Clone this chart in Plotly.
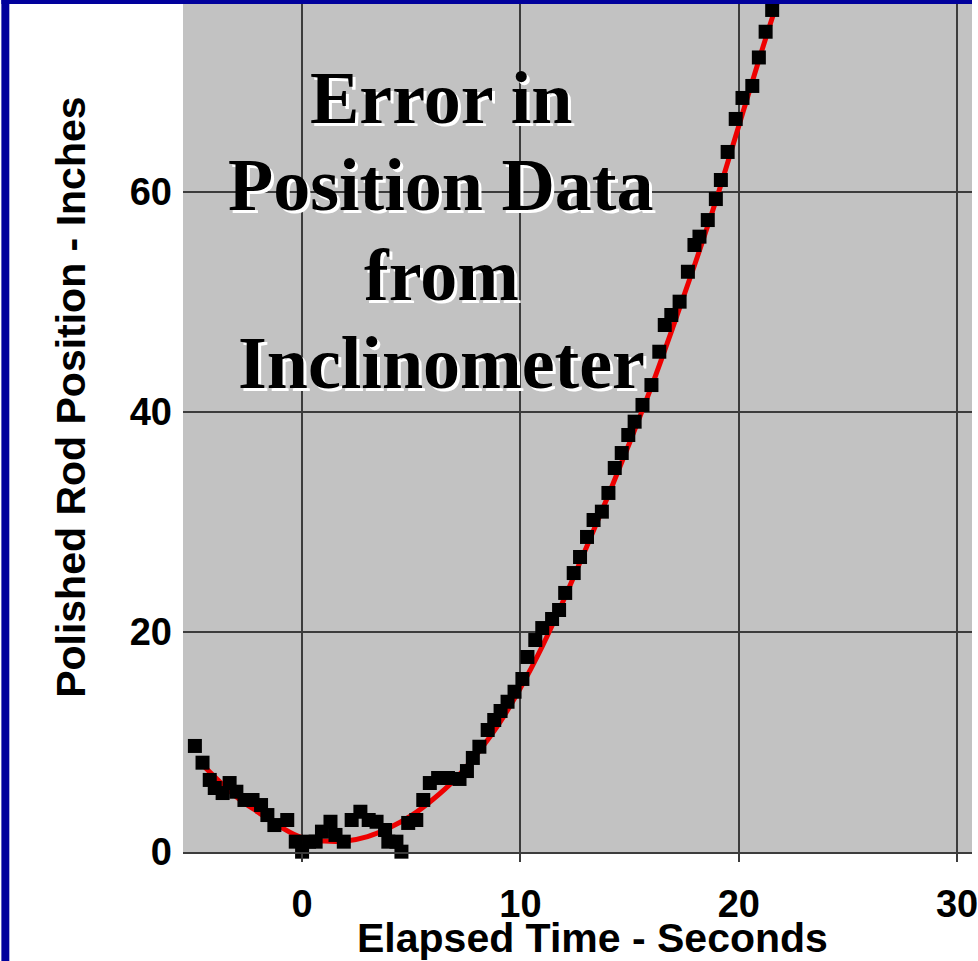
import plotly.graph_objects as go

# Measured data points (elapsed time s, polished rod position in)
time_s = [-4.91, -4.56, -4.23, -4.0, -3.64, -3.32, -3.01, -2.64, -2.27, -1.88,
          -1.59, -1.27, -0.68, -0.29, 0.0, 0.32, 0.62, 0.91, 1.30, 1.53,
          1.91, 2.27, 2.67, 3.05, 3.41, 3.80, 3.95, 4.32, 4.55, 4.86,
          5.23, 5.55, 5.85, 6.23, 6.68, 7.21, 7.55, 7.82, 8.12, 8.5,
          8.80, 9.09, 9.41, 9.73, 10.09, 10.32, 10.68, 11.0, 11.45, 11.77,
          12.05, 12.44, 12.73, 13.05, 13.35, 13.73, 14.03, 14.32, 14.64, 14.94,
          15.23, 15.59, 16.0, 16.36, 16.61, 16.91, 17.29, 17.67, 17.97, 18.2,
          18.58, 18.95, 19.18, 19.49, 19.86, 20.17, 20.62, 20.92, 21.23, 21.53]
position_in = [9.64, 8.12, 6.55, 5.82, 5.36, 6.27, 5.48, 4.73, 4.73, 4.27,
               3.36, 2.45, 2.91, 0.94, 0.03, 0.94, 0.94, 1.85, 2.75, 1.55,
               0.94, 2.91, 3.66, 2.91, 2.75, 2.0, 0.94, 0.94, 0.03, 2.64,
               2.91, 4.73, 6.27, 6.73, 6.73, 6.64, 7.36, 8.55, 9.57, 11.09,
               12.0, 12.82, 13.66, 14.57, 15.73, 17.73, 19.27, 20.36, 21.18, 22.0,
               23.55, 25.36, 26.82, 28.64, 30.18, 30.94, 32.64, 34.91, 36.27, 37.91,
               39.12, 40.64, 42.45, 45.48, 47.91, 48.82, 50.03, 52.75, 55.18, 55.94,
               57.45, 59.36, 61.09, 63.64, 66.64, 68.55, 69.64, 72.23, 74.57, 76.55]

# Reference (red) curve
ref_time = [-4.6, -3, -2, -1, 0, 1, 2, 3, 4, 5, 6, 7, 8, 9, 10, 11, 12,
            13, 14, 15, 16, 17, 18, 19, 20, 21, 22]
ref_pos = [8.0, 5.0, 3.6, 2.3, 1.3, 1.0, 1.0, 1.4, 2.2, 3.3, 4.8, 6.6, 8.9,
           11.6, 14.9, 18.7, 23.0, 27.6, 32.3, 37.2, 42.3, 47.8, 53.5, 59.5,
           66.0, 72.5, 78.7]

x_ticks = [0, 10, 20, 30]
y_ticks = [0, 20, 40, 60]
title_lines = ["Error in", "Position Data", "from", "Inclinometer"]
x_title = "Elapsed Time - Seconds"
y_title = "Polished Rod Position - Inches"

W, H = 978, 961
L, R, T, B = 183, 0, 4, 109
PW, PH = W - L - R, H - T - B


def px_to_paper(px, py):
    return (px - L) / PW, (H - B - py) / PH


fig = go.Figure()
fig.add_trace(go.Scatter(x=ref_time, y=ref_pos, mode="lines",
                         line=dict(color="#ee0000", width=5, shape="spline"),
                         hoverinfo="skip", showlegend=False))
fig.add_trace(go.Scatter(x=time_s, y=position_in, mode="markers",
                         marker=dict(symbol="square", size=14, color="black"),
                         cliponaxis=False, showlegend=False))

axis_font = dict(family="Arial, Liberation Sans, sans-serif", size=38,
                 color="black", weight="bold")
title_font = dict(family="Arial, Liberation Sans, sans-serif", size=41,
                  color="black", weight="bold")
grid_col = "#3c3c3c"

fig.update_layout(
    width=W, height=H, autosize=False,
    margin=dict(l=L, r=R, t=T, b=B, pad=0),
    paper_bgcolor="white", plot_bgcolor="#c2c2c2",
    xaxis=dict(range=[(L - 303) / 22, (W - 303) / 22], tickvals=x_ticks,
               showgrid=True, gridcolor=grid_col, gridwidth=2,
               zeroline=False, showline=True, linecolor=grid_col, linewidth=2,
               ticks="outside", ticklen=8, tickwidth=2, tickcolor=grid_col,
               tickfont=axis_font, ticklabeloverflow="allow",
               ticklabelstandoff=9),
    yaxis=dict(range=[0, (H - B - T) / 11], tickvals=y_ticks,
               showgrid=True, gridcolor=grid_col, gridwidth=2,
               zeroline=False, showline=False, ticks="",
               tickfont=axis_font, ticklabelstandoff=10),
)

# Axis titles
xt, yt = px_to_paper(596, 938)
fig.add_annotation(text=x_title, xref="paper", yref="paper", x=xt, y=yt,
                   showarrow=False, font=title_font,
                   xanchor="center", yanchor="middle")
xt, yt = px_to_paper(70, 397)
fig.add_annotation(text=y_title, xref="paper", yref="paper", x=xt, y=yt,
                   showarrow=False, font=title_font, textangle=-90,
                   xanchor="center", yanchor="middle")

# Big title, one annotation per line
line_centers = [98, 185, 275, 363]
for txt, cy in zip(title_lines, line_centers):
    xt, yt = px_to_paper(443, cy)
    fig.add_annotation(text=txt, xref="paper", yref="paper", x=xt, y=yt,
                       showarrow=False, xanchor="center", yanchor="middle",
                       font=dict(family="Times New Roman, Liberation Serif, serif",
                                 size=74, color="black", weight="bold",
                                 shadow="3px 3px 0px white"))

# Blue slide border (left and top)
blue = "#00009c"
x0, _ = px_to_paper(0, 0)
x1, _ = px_to_paper(8, 0)
_, ytop = px_to_paper(0, 0)
_, ybot = px_to_paper(0, H)
_, y4 = px_to_paper(0, 4)
fig.add_shape(type="rect", xref="paper", yref="paper", x0=x0, x1=x1,
              y0=ybot, y1=ytop, fillcolor=blue, line_width=0, layer="above")
xr, _ = px_to_paper(W, 0)
fig.add_shape(type="rect", xref="paper", yref="paper", x0=x0, x1=xr,
              y0=y4, y1=ytop, fillcolor=blue, line_width=0, layer="above")

fig.write_html("out.html")
